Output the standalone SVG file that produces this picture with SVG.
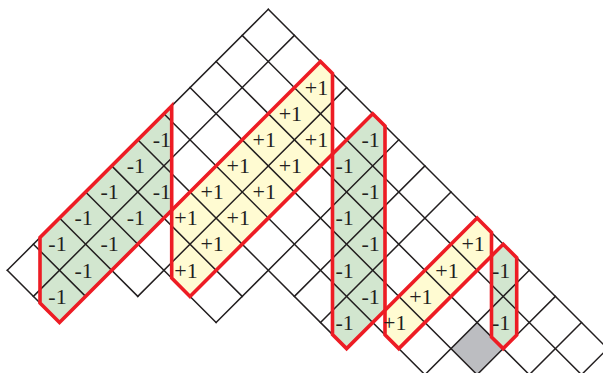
<svg xmlns="http://www.w3.org/2000/svg" xmlns:xlink="http://www.w3.org/1999/xlink" width="603" height="373" viewBox="0 0 603 373">
<style>
.grid{fill:none;stroke:#231f20;stroke-width:1.5;stroke-linecap:square}
.green{fill:#d2e6cf}
.yellow{fill:#fffbd2}
.gray{fill:#bcbdc1}
.outline{fill:none;stroke:#ed1c24;stroke-width:3.6;stroke-linejoin:miter}
.lbl{font-family:"Liberation Serif","Times New Roman",serif;font-size:22px;fill:#231f20;text-anchor:middle}
</style>
<defs>
<polygon id="pg1" points="171.7,105.9 40,237.6 40,303 59.5,322.5 171.7,210.3"/>
<polygon id="py1" points="171.7,210.3 320.5,61.5 332.5,73.5 332.5,153.9 190,296.4 171.7,278.1"/>
<polygon id="pg2" points="372.7,113.7 385,126 385,310.2 346.6,348.6 332.5,334.5 332.5,153.9"/>
<polygon id="py2" points="477.1,218.1 491.5,232.5 491.5,255.9 398.8,348.6 385,334.8 385,310.2"/>
<polygon id="pg3" points="503.2,244.2 516.7,257.7 516.7,335.1 503.2,348.6 491.5,336.9 491.5,255.9"/>
</defs>
<rect width="603" height="373" fill="#ffffff"/>
<g id="fills">
<use xlink:href="#pg1" class="green"/>
<use xlink:href="#py1" class="yellow"/>
<use xlink:href="#pg2" class="green"/>
<use xlink:href="#py2" class="yellow"/>
<use xlink:href="#pg3" class="green"/>
<polygon id="gray-cell" class="gray" points="477.1,322.5 503.2,348.6 477.1,374.7 451,348.6"/>
</g>
<g id="grid" class="grid">
<path d="M268.3,9.3L607.6,348.6 M242.2,35.4L581.5,374.7 M216.1,61.5L529.3,374.7 M190,87.6L477.1,374.7 M163.9,113.7L424.9,374.7 M137.8,139.8L346.6,348.6 M111.7,165.9L242.2,296.4 M85.6,192L216.1,322.5 M59.5,218.1L137.8,296.4 M33.4,244.2L85.6,296.4 M7.3,270.3L59.5,322.5"/>
<path d="M268.3,9.3L7.3,270.3 M294.4,35.4L33.4,296.4 M320.5,61.5L59.5,322.5 M346.6,87.6L137.8,296.4 M372.7,113.7L190,296.4 M398.8,139.8L216.1,322.5 M424.9,165.9L294.4,296.4 M451,192L320.5,322.5 M477.1,218.1L346.6,348.6 M503.2,244.2L398.8,348.6 M529.3,270.3L424.9,374.7 M555.4,296.4L477.1,374.7 M581.5,322.5L529.3,374.7 M607.6,348.6L581.5,374.7"/>
</g>
<g id="connectors">
<use id="strip-g1-outline" xlink:href="#pg1" class="outline"/>
<use id="strip-y1-outline" xlink:href="#py1" class="outline"/>
<use id="strip-g2-outline" xlink:href="#pg2" class="outline"/>
<use id="strip-y2-outline" xlink:href="#py2" class="outline"/>
<use id="strip-g3-outline" xlink:href="#pg3" class="outline"/>
</g>
<g id="strip-g1" class="lbl">
<text x="161.9" y="147">-1</text>
<text x="135.8" y="173.1">-1</text>
<text x="109.7" y="199.2">-1</text>
<text x="83.6" y="225.3">-1</text>
<text x="57.5" y="251.4">-1</text>
<text x="161.9" y="199.2">-1</text>
<text x="135.8" y="225.3">-1</text>
<text x="109.7" y="251.4">-1</text>
<text x="83.6" y="277.5">-1</text>
<text x="57.5" y="303.6">-1</text>
</g>
<g id="strip-y1" class="lbl">
<text x="316.5" y="94.8">+1</text>
<text x="290.4" y="120.9">+1</text>
<text x="316.5" y="147">+1</text>
<text x="264.3" y="147">+1</text>
<text x="290.4" y="173.1">+1</text>
<text x="238.2" y="173.1">+1</text>
<text x="264.3" y="199.2">+1</text>
<text x="212.1" y="199.2">+1</text>
<text x="238.2" y="225.3">+1</text>
<text x="186" y="225.3">+1</text>
<text x="212.1" y="251.4">+1</text>
<text x="186" y="277.5">+1</text>
</g>
<g id="strip-g2" class="lbl">
<text x="370.7" y="147">-1</text>
<text x="344.6" y="173.1">-1</text>
<text x="370.7" y="199.2">-1</text>
<text x="344.6" y="225.3">-1</text>
<text x="370.7" y="251.4">-1</text>
<text x="344.6" y="277.5">-1</text>
<text x="370.7" y="303.6">-1</text>
<text x="344.6" y="329.7">-1</text>
</g>
<g id="strip-y2" class="lbl">
<text x="473.1" y="251.4">+1</text>
<text x="447" y="277.5">+1</text>
<text x="420.9" y="303.6">+1</text>
<text x="394.8" y="329.7">+1</text>
</g>
<g id="strip-g3" class="lbl">
<text x="501.2" y="277.5">-1</text>
<text x="501.2" y="329.7">-1</text>
</g>
</svg>
